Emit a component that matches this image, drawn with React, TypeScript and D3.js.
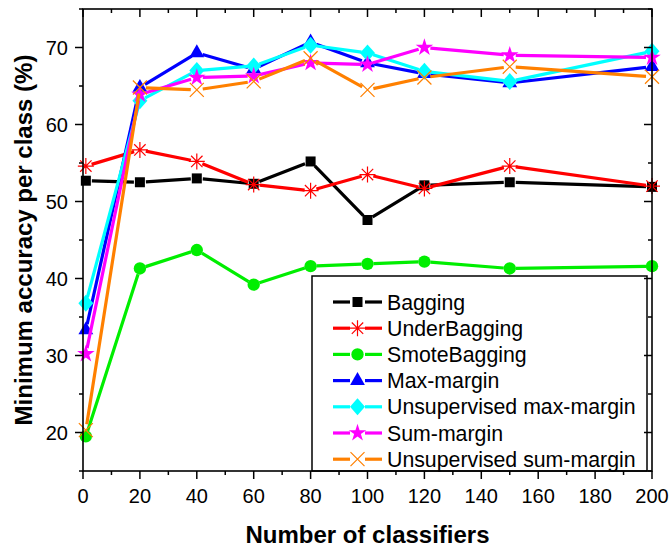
import React from 'react';
import * as d3 from 'd3';

// classifiers count on the x axis
const xValues = [1, 20, 40, 60, 80, 100, 120, 150, 200];

const bagging = [52.7, 52.5, 53.0, 52.3, 55.2, 47.6, 52.1, 52.5, 51.9];
const underBagging = [54.6, 56.7, 55.2, 52.2, 51.4, 53.5, 51.7, 54.6, 52.0];
const smoteBagging = [19.5, 41.3, 43.7, 39.2, 41.6, 41.9, 42.2, 41.3, 41.6];
const maxMargin = [33.3, 64.8, 69.3, 67.2, 70.7, 68.0, 66.6, 65.4, 67.5];
const unsupMaxMargin = [36.8, 63.1, 67.0, 67.6, 70.3, 69.3, 66.9, 65.6, 69.5];
const sumMargin = [30.2, 63.9, 66.1, 66.3, 68.0, 67.8, 70.0, 69.0, 68.7];
const unsupSumMargin = [20.3, 64.8, 64.5, 65.6, 68.6, 64.5, 66.1, 67.5, 66.2];

const seriesNames = ['Bagging', 'UnderBagging', 'SmoteBagging', 'Max-margin', 'Unsupervised max-margin', 'Sum-margin', 'Unsupervised sum-margin'];
const seriesValues = [bagging, underBagging, smoteBagging, maxMargin, unsupMaxMargin, sumMargin, unsupSumMargin];
const seriesColors = ['#000000', '#FF0000', '#00EE00', '#0000FF', '#00FFFF', '#FF00FF', '#FF8000'];
const seriesShapes = ['square', 'asterisk', 'circle', 'triangle', 'diamond', 'star', 'cross'];

const xTicks = [0, 20, 40, 60, 80, 100, 120, 140, 160, 180, 200];
const yTicks = [20, 30, 40, 50, 60, 70];

const W = 671;
const H = 549;
const left = 83;
const right = 652;
const top = 9;
const bottom = 471;

const x = d3.scaleLinear().domain([0, 200]).range([left, right]);
const y = d3.scaleLinear().domain([15, 75]).range([bottom, top]);

const FONT = 'Arial, "Liberation Sans", sans-serif';

const markerPath = (shape: string): string => {
	switch (shape) {
		case 'square':
			return d3.symbol(d3.symbolSquare, 100)() as string;
		case 'circle':
			return d3.symbol(d3.symbolCircle, 120)() as string;
		case 'triangle':
			return d3.symbol(d3.symbolTriangle, 95)() as string;
		case 'star':
			return d3.symbol(d3.symbolStar, 95)() as string;
		case 'diamond':
			return 'M0,-8.5L7.5,0L0,8.5L-7.5,0Z';
		case 'asterisk':
			return 'M0,-8V8M-8,0H8M-5.7,-5.7L5.7,5.7M-5.7,5.7L5.7,-5.7';
		case 'cross':
			return 'M-7,-7L7,7M-7,7L7,-7';
		default:
			return '';
	}
};

const isThin = (shape: string) => shape === 'asterisk' || shape === 'cross';

const Marker = ({ shape, color, cx, cy }: { shape: string; color: string; cx: number; cy: number }) => (
	<path
		d={markerPath(shape)}
		transform={`translate(${cx},${cy})`}
		fill={isThin(shape) ? 'none' : color}
		stroke={color}
		strokeWidth={isThin(shape) ? 1.2 : 0}
	/>
);

// line segments with a small gap around each symbol, like Origin draws them
const gapSegments = (pts: [number, number][], gap: number) => {
	const segs: string[] = [];
	for (let i = 0; i < pts.length - 1; i++) {
		const [x0, y0] = pts[i];
		const [x1, y1] = pts[i + 1];
		const len = Math.hypot(x1 - x0, y1 - y0);
		if (len <= gap * 2) continue;
		const ux = (x1 - x0) / len;
		const uy = (y1 - y0) / len;
		segs.push(`M${x0 + ux * gap},${y0 + uy * gap}L${x1 - ux * gap},${y1 - uy * gap}`);
	}
	return segs.join('');
};

export default function App() {
	const minorX = d3.range(10, 200, 20);
	const minorY = d3.range(15, 76, 10);

	return (
		<svg width={W} height={H} style={{ position: 'absolute', left: 0, top: 0, background: '#fff' }} fontFamily={FONT}>
			{/* series */}
			{seriesValues.map((vals, si) => {
				const pts = vals.map((v, i) => [x(xValues[i]), y(v)] as [number, number]);
				return (
					<g key={seriesNames[si]}>
						<path d={gapSegments(pts, 6)} stroke={seriesColors[si]} strokeWidth={3.2} fill="none" />
						{pts.map(([cx, cy], i) => (
							<Marker key={i} shape={seriesShapes[si]} color={seriesColors[si]} cx={cx} cy={cy} />
						))}
					</g>
				);
			})}

			{/* legend */}
			<rect x={312} y={276} width={335} height={bottom - 276} fill="#fff" stroke="#000" strokeWidth={1.5} />
			{seriesNames.map((name, i) => {
				const ly = 302 + i * 26.2;
				return (
					<g key={name}>
						<line x1={333} x2={350} y1={ly} y2={ly} stroke={seriesColors[i]} strokeWidth={3.2} />
						<line x1={365} x2={382} y1={ly} y2={ly} stroke={seriesColors[i]} strokeWidth={3.2} />
						<Marker shape={seriesShapes[i]} color={seriesColors[i]} cx={357.5} cy={ly} />
						<text x={387} y={ly} dy="0.36em" fontSize={21.3} fill="#000">
							{name}
						</text>
					</g>
				);
			})}

			{/* frame */}
			<rect x={left} y={top} width={right - left} height={bottom - top} fill="none" stroke="#000" strokeWidth={1.6} />

			{/* x ticks: outward at bottom, inward at top */}
			{xTicks.map((t) => (
				<g key={`x${t}`}>
					<line x1={x(t)} x2={x(t)} y1={bottom} y2={bottom + 8} stroke="#000" strokeWidth={1.5} />
					<line x1={x(t)} x2={x(t)} y1={top} y2={top + 8} stroke="#000" strokeWidth={1.5} />
					<text x={x(t)} y={503} textAnchor="middle" fontSize={20} fill="#000">
						{t}
					</text>
				</g>
			))}
			{minorX.map((t) => (
				<g key={`mx${t}`}>
					<line x1={x(t)} x2={x(t)} y1={bottom} y2={bottom + 4} stroke="#000" strokeWidth={1.5} />
					<line x1={x(t)} x2={x(t)} y1={top} y2={top + 4} stroke="#000" strokeWidth={1.5} />
				</g>
			))}

			{/* y ticks: outward at left, inward at right */}
			{yTicks.map((t) => (
				<g key={`y${t}`}>
					<line x1={left - 8} x2={left} y1={y(t)} y2={y(t)} stroke="#000" strokeWidth={1.5} />
					<line x1={right - 8} x2={right} y1={y(t)} y2={y(t)} stroke="#000" strokeWidth={1.5} />
					<text x={68} y={y(t)} dy="0.36em" textAnchor="end" fontSize={20} fill="#000">
						{t}
					</text>
				</g>
			))}
			{minorY.map((t) => (
				<g key={`my${t}`}>
					<line x1={left - 4} x2={left} y1={y(t)} y2={y(t)} stroke="#000" strokeWidth={1.5} />
					<line x1={right - 4} x2={right} y1={y(t)} y2={y(t)} stroke="#000" strokeWidth={1.5} />
				</g>
			))}

			{/* axis titles */}
			<text x={(left + right) / 2} y={543} textAnchor="middle" fontSize={24} fontWeight="bold" fill="#000">
				Number of classifiers
			</text>
			<text
				transform={`translate(32,${(top + bottom) / 2}) rotate(-90)`}
				textAnchor="middle"
				fontSize={24}
				fontWeight="bold"
				fill="#000"
			>
				Minimum accuracy per class (%)
			</text>
		</svg>
	);
}
